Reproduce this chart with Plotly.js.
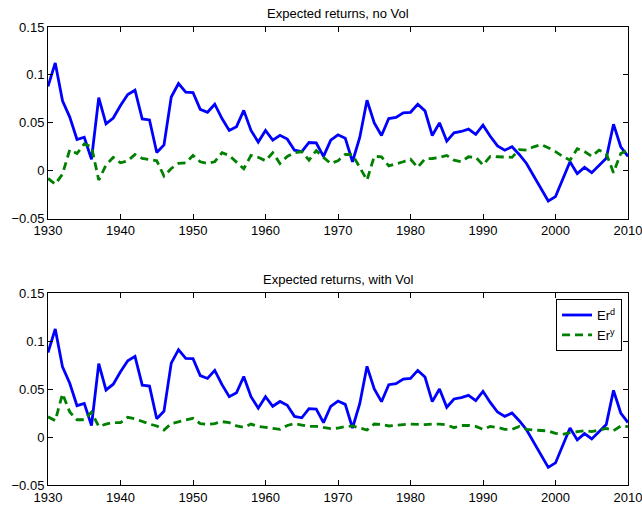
<!DOCTYPE html>
<html>
<head>
<meta charset="utf-8">
<script src="https://cdn.plot.ly/plotly-3.0.1.min.js"></script>
<style>
  html, body { margin: 0; padding: 0; background: #fff; }
  #chart { width: 642px; height: 506px; }
</style>
</head>
<body>
<div id="chart"></div>
<script>
// Annual expected returns, 1930-2010
const years = [];
for (let y = 1930; y <= 2010; y++) years.push(y);

// Er^d (same in both panels)
const erD = [
  0.088, 0.1125, 0.073, 0.056, 0.0326, 0.035, 0.012, 0.0764, 0.049, 0.055,
  0.068, 0.0795, 0.084, 0.054, 0.053, 0.019, 0.027, 0.077, 0.091, 0.082,
  0.0816, 0.064, 0.061, 0.0694, 0.0545, 0.042, 0.046, 0.063, 0.042, 0.030,
  0.042, 0.032, 0.037, 0.033, 0.0215, 0.020, 0.0295, 0.029, 0.015, 0.032,
  0.0375, 0.034, 0.0094, 0.0347, 0.0736, 0.050, 0.0368, 0.0545, 0.0556, 0.0604,
  0.061, 0.0694, 0.0625, 0.0368, 0.050, 0.031, 0.0396, 0.041, 0.0434, 0.038,
  0.0476, 0.036, 0.026, 0.0215, 0.025, 0.017, 0.0076, -0.0056, -0.019, -0.0316,
  -0.027, -0.0097, 0.0094, -0.003, 0.0035, -0.002, 0.005, 0.013, 0.0486, 0.025,
  0.015
];

// Er^y without volatility
const erYNoVol = [
  -0.008, -0.014, -0.0035, 0.022, 0.018, 0.028, 0.025, -0.0097, 0.006, 0.014,
  0.0083, 0.0104, 0.017, 0.0128, 0.0118, 0.0104, -0.0056, 0.0024, 0.0076, 0.0083,
  0.016, 0.0094, 0.0076, 0.0094, 0.0188, 0.016, 0.009, 0.002, 0.016, 0.014,
  0.0104, 0.0188, 0.0076, 0.015, 0.0188, 0.020, 0.011, 0.021, 0.014, 0.0076,
  0.0105, 0.017, 0.0167, 0.004, -0.0097, 0.015, 0.0146, 0.005, 0.007, 0.0094,
  0.012, 0.0035, 0.0125, 0.0128, 0.014, 0.016, 0.011, 0.0094, 0.0146, 0.014,
  0.006, 0.015, 0.0146, 0.014, 0.014, 0.022, 0.0215, 0.025, 0.0274, 0.024,
  0.020, 0.015, 0.011, 0.023, 0.020, 0.015, 0.0215, 0.018, -0.002, 0.018,
  0.0215
];

// Er^y with volatility
const erYVol = [
  0.021, 0.017, 0.045, 0.026, 0.018, 0.018, 0.026, 0.011, 0.0135, 0.015,
  0.015, 0.0205, 0.019, 0.016, 0.0135, 0.0115, 0.0073, 0.014, 0.016, 0.018,
  0.0195, 0.014, 0.013, 0.014, 0.016, 0.015, 0.0115, 0.010, 0.0135, 0.011,
  0.010, 0.0097, 0.008, 0.012, 0.014, 0.0125, 0.011, 0.011, 0.0097, 0.0087,
  0.0093, 0.0108, 0.0115, 0.0097, 0.0073, 0.0135, 0.013, 0.0115, 0.0125, 0.013,
  0.0135, 0.013, 0.013, 0.0135, 0.0135, 0.0125, 0.0097, 0.012, 0.012, 0.011,
  0.008, 0.011, 0.010, 0.008, 0.008, 0.011, 0.008, 0.0073, 0.0066, 0.0063,
  0.0038, 0.0028, 0.0045, 0.0056, 0.0066, 0.0056, 0.0073, 0.009, 0.0066, 0.0115,
  0.0108
];

const panelTitles = ['Expected returns, no Vol', 'Expected returns, with Vol'];
const seriesNames = ['Er<sup>d</sup>', 'Er<sup>y</sup>'];
const yTickVals = [-0.05, 0, 0.05, 0.1, 0.15];
const yTickText = ['\u22120.05', '0', '0.05', '0.1', '0.15'];
const xTickVals = [1930, 1940, 1950, 1960, 1970, 1980, 1990, 2000, 2010];

const blue = '#0000ff';
const green = '#008000';
const solidLine = { color: blue, width: 2.8 };
const dashLine = { color: green, width: 2.8, dash: '8px,5px' };

const traces = [
  { x: years, y: erD, type: 'scatter', mode: 'lines', line: solidLine,
    xaxis: 'x', yaxis: 'y', showlegend: false, name: seriesNames[0] },
  { x: years, y: erYNoVol, type: 'scatter', mode: 'lines', line: dashLine,
    xaxis: 'x', yaxis: 'y', showlegend: false, name: seriesNames[1] },
  { x: years, y: erD, type: 'scatter', mode: 'lines', line: solidLine,
    xaxis: 'x2', yaxis: 'y2', name: seriesNames[0] },
  { x: years, y: erYVol, type: 'scatter', mode: 'lines', line: dashLine,
    xaxis: 'x2', yaxis: 'y2', name: seriesNames[1] }
];

const fontFamily = 'Liberation Sans, Arial, sans-serif';
const tickFont = { family: fontFamily, size: 13, color: '#000' };

function xAxis(anchor) {
  return {
    anchor: anchor, domain: [0, 1], range: [1930, 2010],
    tickvals: xTickVals, ticks: 'inside', ticklen: 5, tickcolor: '#000',
    ticklabeloverflow: 'allow',
    showline: true, linecolor: '#000', linewidth: 1, mirror: 'ticks',
    showgrid: false, zeroline: false, tickfont: tickFont
  };
}
function yAxis(anchor, domain) {
  return {
    anchor: anchor, domain: domain, range: [-0.05, 0.15],
    tickvals: yTickVals, ticktext: yTickText, ticks: 'inside', ticklen: 5, tickcolor: '#000',
    ticklabeloverflow: 'allow',
    showline: true, linecolor: '#000', linewidth: 1, mirror: 'ticks',
    showgrid: false, zeroline: false, tickfont: tickFont
  };
}

const topDomain = [0.5815, 1];
const bottomDomain = [0, 0.4192];

const titleFont = { family: fontFamily, size: 13, color: '#000' };

const layout = {
  width: 642, height: 506,
  margin: { l: 48, r: 14, t: 27, b: 21 },
  paper_bgcolor: '#fff', plot_bgcolor: '#fff',
  font: tickFont,
  xaxis: xAxis('y'),
  yaxis: yAxis('x', topDomain),
  xaxis2: xAxis('y2'),
  yaxis2: yAxis('x2', bottomDomain),
  annotations: [
    { text: panelTitles[0], xref: 'paper', yref: 'paper', x: 0.5, y: topDomain[1],
      xanchor: 'center', yanchor: 'middle', yshift: 14, showarrow: false, font: titleFont },
    { text: panelTitles[1], xref: 'paper', yref: 'paper', x: 0.5, y: bottomDomain[1],
      xanchor: 'center', yanchor: 'middle', yshift: 14, showarrow: false, font: titleFont }
  ],
  legend: {
    x: 0.9897, y: 0.406, xanchor: 'right', yanchor: 'top',
    bgcolor: '#fff', bordercolor: '#000', borderwidth: 1,
    font: { family: fontFamily, size: 13, color: '#000' },
    tracegroupgap: 0, entrywidth: 72
  },
  showlegend: true
};

Plotly.newPlot('chart', traces, layout, { displayModeBar: false, staticPlot: true });
</script>
</body>
</html>
